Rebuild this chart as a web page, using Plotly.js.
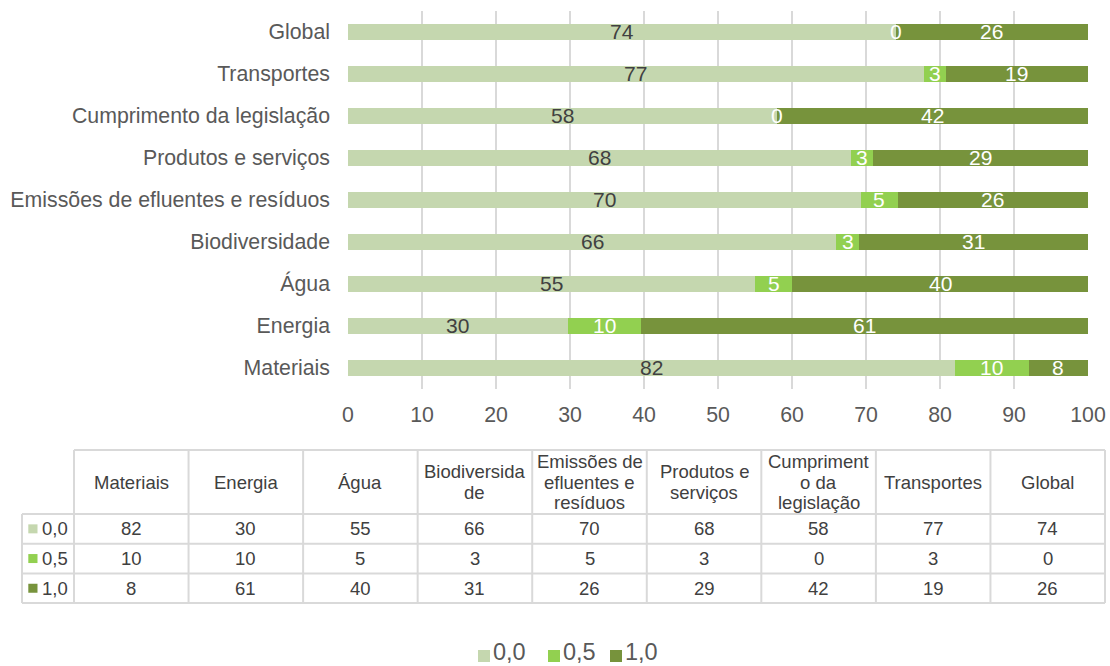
<!DOCTYPE html>
<html>
<head>
<meta charset="utf-8">
<script src="https://cdn.plot.ly/plotly-3.0.1.min.js"></script>
<style>html,body{margin:0;padding:0;background:#fff;}#chart{width:1110px;height:666px;}</style>
</head>
<body>
<div id="chart"></div>
<script>
const categories = ['Materiais','Energia','Água','Biodiversidade','Emissões de efluentes e resíduos','Produtos e serviços','Cumprimento da legislação','Transportes','Global'];
const tableHeaders = ['Materiais','Energia','Água','Biodiversida<br>de','Emissões de<br>efluentes e<br>resíduos','Produtos e<br>serviços','Cumpriment<br>o da<br>legislação','Transportes','Global'];
const seriesNames = ['0,0','0,5','1,0'];
const values00 = [82,30,55,66,70,68,58,77,74];
const values05 = [10,10,5,3,5,3,0,3,0];
const values10 = [8,61,40,31,26,29,42,19,26];
const xTickVals = [0,10,20,30,40,50,60,70,80,90,100];

const seriesValues = [values00, values05, values10];
const colors = ['#C5D7AF','#92D050','#77933C'];
const labelColors = ['#404040','#ffffff','#ffffff'];
const FONT = "'Liberation Sans', Arial, sans-serif";

const traces = [];
seriesValues.forEach((vals, s) => {
  traces.push({
    type: 'bar', orientation: 'h', name: seriesNames[s],
    y: categories, x: vals, marker: {color: colors[s], line: {width: 0}},
    showlegend: false, hoverinfo: 'x+y+name'
  });
});

const shapes = [];
const annotations = [];

// data labels in data coordinates (positions follow the 100% normalisation of the bars)
seriesValues.forEach((vals, s) => {
  categories.forEach((c, i) => {
    const tot = values00[i] + values05[i] + values10[i];
    let before = 0;
    for (let k = 0; k < s; k++) before += seriesValues[k][i];
    annotations.push({xref: 'x', yref: 'y', x: (before + vals[i] / 2) / tot * 100, y: c,
      text: String(vals[i]), showarrow: false, xanchor: 'center', yanchor: 'middle', yshift: 1,
      font: {family: FONT, size: 21, color: labelColors[s]}});
  });
});

// pixel -> paper helpers
const PL = 348, PR = 1088, PT = 11, PB = 389;
const px = X => (X - PL) / (PR - PL);
const py = Y => (PB - Y) / (PB - PT);

const grid = '#D9D9D9';
const tLeft = 22, tFirst = 74, tRight = 1105;
const colW = (tRight - tFirst) / categories.length;
const hTop = 450, hBot = 514, rowH = 29.7;
const rowsY = [hBot, hBot + rowH, hBot + 2 * rowH, hBot + 3 * rowH];
const TFS = 18.5, lineGap = 20.5;

function line(x0, y0, x1, y1) {
  shapes.push({type: 'line', xref: 'paper', yref: 'paper', x0: px(x0), y0: py(y0), x1: px(x1), y1: py(y1),
    line: {color: grid, width: 2}});
}
function rect(x0, y0, x1, y1, c) {
  shapes.push({type: 'rect', xref: 'paper', yref: 'paper', x0: px(x0), y0: py(y0), x1: px(x1), y1: py(y1),
    line: {width: 0}, fillcolor: c});
}
line(tFirst, hTop, tRight, hTop);
rowsY.forEach(y => line(tLeft, y, tRight, y));
line(tLeft, hBot, tLeft, rowsY[3]);
for (let k = 0; k <= categories.length; k++) line(tFirst + k * colW, hTop, tFirst + k * colW, rowsY[3]);

tableHeaders.forEach((h, i) => {
  const parts = h.split('<br>');
  const yMid = (hTop + hBot) / 2;
  parts.forEach((p, j) => {
    const yc = yMid + (j - (parts.length - 1) / 2) * lineGap;
    annotations.push({xref: 'paper', yref: 'paper', x: px(tFirst + (i + 0.5) * colW), y: py(yc),
      text: p, showarrow: false, xanchor: 'center', yanchor: 'middle',
      font: {family: FONT, size: TFS, color: '#404040'}});
  });
});
seriesNames.forEach((n, s) => {
  const ycPx = rowsY[s] + rowH / 2;
  const yc = py(ycPx);
  rect(28.3, ycPx - 4.5, 37.5, ycPx + 4.5, colors[s]);
  annotations.push({xref: 'paper', yref: 'paper', x: px(40), y: yc,
    text: n, showarrow: false, xanchor: 'left', yanchor: 'middle',
    font: {family: FONT, size: TFS, color: '#404040'}});
  seriesValues[s].forEach((v, i) => {
    annotations.push({xref: 'paper', yref: 'paper', x: px(tFirst + (i + 0.5) * colW), y: yc,
      text: String(v), showarrow: false, xanchor: 'center', yanchor: 'middle',
      font: {family: FONT, size: TFS, color: '#404040'}});
  });
});
// bottom legend
const legKeyX = [478, 548, 610];
seriesNames.forEach((n, s) => {
  rect(legKeyX[s], 650, legKeyX[s] + 12, 662, colors[s]);
  annotations.push({xref: 'paper', yref: 'paper', x: px(legKeyX[s] + 14), y: py(666), yshift: 0,
    text: n, showarrow: false, xanchor: 'left', yanchor: 'bottom', borderpad: 0,
    font: {family: FONT, size: 23.5, color: '#595959'}});
});

const layout = {
  width: 1110, height: 666,
  margin: {l: PL, r: 1110 - PR, t: PT, b: 666 - PB, pad: 0},
  paper_bgcolor: '#ffffff', plot_bgcolor: '#ffffff',
  barmode: 'stack', barnorm: 'percent', bargap: 0.6,
  showlegend: false,
  xaxis: {range: [0, 100], tickvals: xTickVals, ticktext: xTickVals.map(String),
    showgrid: true, gridcolor: grid, gridwidth: 2, zeroline: false, showline: false,
    ticks: '', ticklabelstandoff: 11, tickfont: {family: FONT, size: 21.3, color: '#595959'}, fixedrange: true},
  yaxis: {type: 'category', categoryorder: 'array', categoryarray: categories,
    showgrid: false, zeroline: false, showline: false, ticks: '', ticklabelstandoff: 17,
    tickfont: {family: FONT, size: 21.3, color: '#595959'}, fixedrange: true},
  shapes: shapes, annotations: annotations,
  font: {family: FONT}
};
Plotly.newPlot('chart', traces, layout, {displayModeBar: false, staticPlot: true});
</script>
</body>
</html>
